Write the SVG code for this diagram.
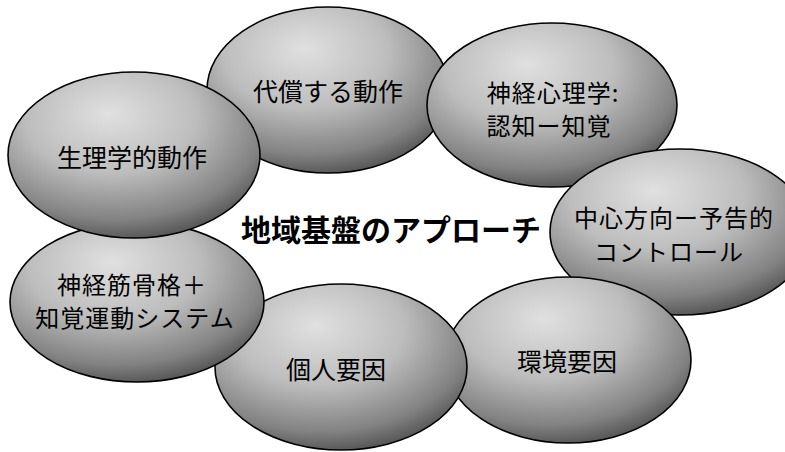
<svg xmlns="http://www.w3.org/2000/svg" width="785" height="452" viewBox="0 0 785 452">
  <defs>
    <radialGradient id="shade" cx="0.42" cy="0.3" r="0.75" fx="0.4" fy="0.25">
      <stop offset="0" stop-color="#e0e0e0"/>
      <stop offset="0.45" stop-color="#bdbdbd"/>
      <stop offset="0.8" stop-color="#828282"/>
      <stop offset="1" stop-color="#4a4a4a"/>
    </radialGradient>
  </defs>
  <style>
    .bubble { fill: url(#shade); stroke: #000; stroke-width: 1.6; }
    .lbl { font-family: "Noto Sans CJK JP", "Noto Sans", sans-serif; font-size: 25px; fill: #000; text-anchor: middle; }
    .lbl2 { font-family: "Noto Sans CJK JP", "Noto Sans", sans-serif; font-size: 24px; letter-spacing: 1px; fill: #000; text-anchor: middle; }
    .title { font-family: "Noto Sans CJK JP", "Noto Sans", sans-serif; font-size: 30px; font-weight: bold; fill: #000; text-anchor: middle; }
  </style>
  <rect width="785" height="452" fill="#fff"/>
  <g id="connectors"></g>
  <g id="node-compensatory">
    <ellipse class="bubble" cx="328" cy="90" rx="121" ry="83"/>
    <text class="lbl" x="328" y="101">代償する動作</text>
  </g>
  <g id="node-neuropsych">
    <ellipse class="bubble" cx="552" cy="105" rx="125" ry="82"/>
    <text class="lbl2" x="553" y="102">神経心理学:</text>
    <text class="lbl2" x="549" y="135">認知ー知覚</text>
  </g>
  <g id="node-central">
    <ellipse class="bubble" cx="680" cy="232" rx="130" ry="83"/>
    <text class="lbl2" x="674" y="227">中心方向ー予告的</text>
    <text class="lbl2" x="669" y="261">コントロール</text>
  </g>
  <g id="node-environment">
    <ellipse class="bubble" cx="568" cy="360" rx="123" ry="83"/>
    <text class="lbl" x="567" y="371">環境要因</text>
  </g>
  <g id="node-individual">
    <ellipse class="bubble" cx="341" cy="367" rx="126" ry="83"/>
    <text class="lbl" x="336" y="379">個人要因</text>
  </g>
  <g id="node-neuromusculo">
    <ellipse class="bubble" cx="137" cy="302" rx="127" ry="80"/>
    <text class="lbl2" x="132" y="294">神経筋骨格＋</text>
    <text class="lbl2" x="135" y="327">知覚運動システム</text>
  </g>
  <g id="node-physiological">
    <ellipse class="bubble" cx="134" cy="155" rx="126" ry="83"/>
    <text class="lbl" x="132" y="167">生理学的動作</text>
  </g>
  <g id="center-title">
    <text class="title" x="391" y="241">地域基盤のアプローチ</text>
  </g>
</svg>
